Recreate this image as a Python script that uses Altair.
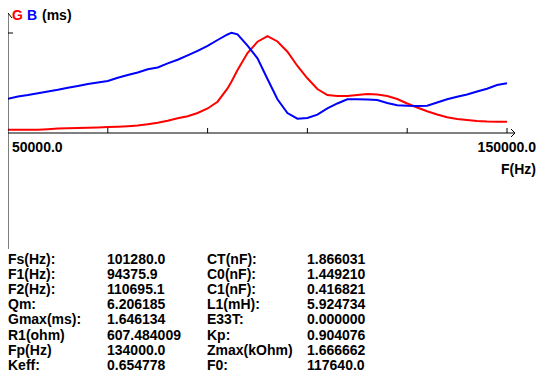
import altair as alt
import pandas as pd

# Frequency grid (Hz)
freq = [50000, 52000, 54000, 56000, 58000, 60000, 62000, 64000, 66000, 68000,
        70000, 72000, 74000, 76000, 78000, 80000, 82000, 84000, 86000, 88000,
        90000, 92000, 94000, 94800, 96000, 98000, 100000, 102000, 104000, 106000,
        108000, 110000, 112000, 114000, 116000, 118000, 120000, 122000, 124000,
        126000, 128000, 130000, 132000, 134000, 136000, 138000, 140000, 142000,
        144000, 146000, 148000, 150000]

# Conductance G (ms)
G = [0.056, 0.056, 0.056, 0.056, 0.065, 0.075, 0.080, 0.085, 0.090, 0.095,
     0.100, 0.107, 0.116, 0.128, 0.150, 0.175, 0.207, 0.252, 0.284, 0.340,
     0.417, 0.532, 0.757, 0.876, 1.071, 1.360, 1.552, 1.646, 1.556, 1.382,
     1.139, 0.930, 0.748, 0.646, 0.629, 0.629, 0.646, 0.663, 0.655, 0.629,
     0.578, 0.502, 0.434, 0.369, 0.315, 0.267, 0.238, 0.221, 0.204, 0.196,
     0.192, 0.192]

# Susceptance B (ms)
B = [0.583, 0.621, 0.646, 0.677, 0.706, 0.734, 0.768, 0.799, 0.833, 0.859,
     0.884, 0.940, 0.986, 1.029, 1.085, 1.114, 1.183, 1.246, 1.321, 1.397,
     1.482, 1.581, 1.675, 1.705, 1.678, 1.484, 1.270, 0.918, 0.573, 0.340,
     0.243, 0.255, 0.311, 0.417, 0.502, 0.573, 0.573, 0.570, 0.561, 0.510,
     0.473, 0.462, 0.459, 0.464, 0.519, 0.573, 0.615, 0.655, 0.706, 0.753,
     0.816, 0.845]

x_ticks = [70000, 90000, 110000, 130000, 150000]
y_tick = 1.7

labels1 = ["Fs(Hz):", "F1(Hz):", "F2(Hz):", "Qm:", "Gmax(ms):", "R1(ohm)", "Fp(Hz)", "Keff:"]
values1 = ["101280.0", "94375.9", "110695.1", "6.206185", "1.646134", "607.484009", "134000.0", "0.654778"]
labels2 = ["CT(nF):", "C0(nF):", "C1(nF):", "L1(mH):", "E33T:", "Kp:", "Zmax(kOhm)", "F0:"]
values2 = ["1.866031", "1.449210", "0.416821", "5.924734", "0.000000", "0.904076", "1.666662", "117640.0"]

FONT = "Liberation Sans"
FS = 14

df = pd.DataFrame({"F": freq * 2, "v": G + B,
                   "s": ["G"] * len(freq) + ["B"] * len(freq)})

xs = alt.Scale(domain=[50000, 150000], range=[0, 499])
ys = alt.Scale(domain=[0, 1.7], range=[125, 25])

lines = alt.Chart(df).mark_line(strokeWidth=2, interpolate="linear").encode(
    x=alt.X("F:Q", scale=xs, axis=None),
    y=alt.Y("v:Q", scale=ys, axis=None),
    color=alt.Color("s:N", scale=alt.Scale(domain=["G", "B"], range=["#ff0000", "#0000ff"]), legend=None),
    detail="s:N",
)

axis_rule = alt.Chart(pd.DataFrame({"a": [0]})).mark_rule(color="black", strokeWidth=1)

x_axis = axis_rule.encode(y=alt.Y("a:Q", scale=ys), x=alt.value(0), x2=alt.value(507))
y_axis = axis_rule.encode(x=alt.value(0), y=alt.value(5), y2=alt.value(241))

ticks = alt.Chart(pd.DataFrame({"F": x_ticks})).mark_rule(color="black").encode(
    x=alt.X("F:Q", scale=xs), y=alt.value(120), y2=alt.value(125))
ytick = alt.Chart(pd.DataFrame({"v": [y_tick]})).mark_rule(color="black").encode(
    y=alt.Y("v:Q", scale=ys), x=alt.value(0), x2=alt.value(5))

arrow_up1 = axis_rule.encode(x=alt.value(0), x2=alt.value(4), y=alt.value(5), y2=alt.value(10))
arrow_r1 = axis_rule.encode(x=alt.value(503), x2=alt.value(507), y=alt.value(121), y2=alt.value(125))
arrow_r2 = axis_rule.encode(x=alt.value(503), x2=alt.value(507), y=alt.value(129), y2=alt.value(125))

def txt(t, x, y, color="black", align="left", **kw):
    return alt.Chart(pd.DataFrame({"t": [t]})).mark_text(
        font=FONT, fontSize=FS, fontWeight="bold", align=align, baseline="alphabetic",
        color=color, **kw).encode(text="t:N", x=alt.value(x), y=alt.value(y))

leg_g = txt("G", 4, 12, color="#ff0000")
leg_b = txt("B", 19, 12, color="#0000ff")
leg_u = txt("(ms)", 34, 12)

xl1 = txt("50000.0", 4, 144)
xl2 = txt("150000.0", 528, 144, align="right")
xl3 = txt("F(Hz)", 528, 166, align="right")

c1 = txt("\n".join(labels1), 0, 256, lineBreak="\n", lineHeight=15.1)
c2 = txt("\n".join(values1), 99, 256, lineBreak="\n", lineHeight=15.1)
c3 = txt("\n".join(labels2), 199, 256, lineBreak="\n", lineHeight=15.1)
c4 = txt("\n".join(values2), 299, 256, lineBreak="\n", lineHeight=15.1)

chart = alt.layer(
    lines, x_axis, y_axis, ticks, ytick, arrow_up1, arrow_r1, arrow_r2,
    leg_g, leg_b, leg_u, xl1, xl2, xl3, c1, c2, c3, c4
).properties(
    width=528, height=374,
    autosize=alt.AutoSizeParams(type="none"),
    padding=0, background="white"
).configure_view(stroke=None)

chart.save("out.html", embed_options={"renderer": "svg", "actions": False})
